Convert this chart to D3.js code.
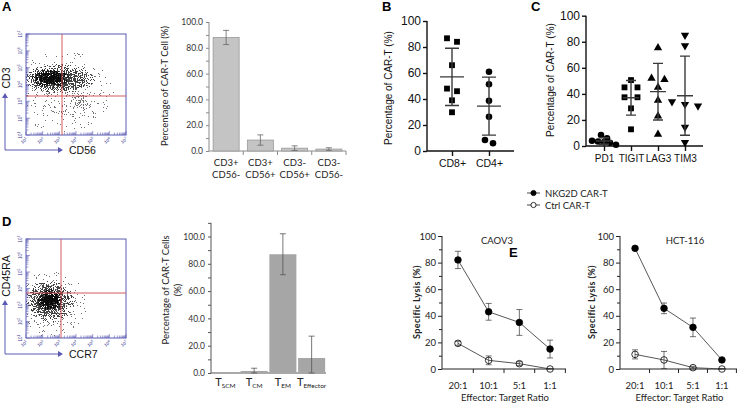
<!DOCTYPE html>
<html><head><meta charset="utf-8">
<script src="https://cdn.jsdelivr.net/npm/d3@7/dist/d3.min.js"></script>
<style>body{margin:0;background:#fff}svg{display:block}</style></head>
<body>
<script>
// ---------------- DATA ----------------
const catsA = ["CD3+ CD56-", "CD3+ CD56+", "CD3- CD56+", "CD3- CD56-"];
const valsA = [88, 8.5, 2.2, 1.5];
const errA  = [5.5, 4, 1.8, 1.0];

const catsB  = ["CD8+", "CD4+"];
const ptsCD8 = [86.7, 84, 66, 48, 46, 39, 29.8];
const ptsCD4 = [61, 51.3, 38.7, 26.4, 5.9, 8.5];
const meanB  = [57, 34.5];
const sdB    = [22, 22.3];

const catsC    = ["PD1", "TIGIT", "LAG3", "TIM3"];
const ptsPD1   = [8.4, 5.9, 4, 3.5, 3, 2.5, 1];
const ptsTIGIT = [50.6, 45, 45, 37.4, 37.4, 28.9, 12.8];
const ptsLAG3  = [75.4, 52, 51, 45, 35, 23, 9];
const ptsTIM3  = [85, 77, 34, 32, 30.7, 14.4, 2.8];
const meanC    = [3.8, 37, 41.7, 38.6];
const sdC      = [2.5, 13.3, 21.7, 30.4];

const catsD = ["SCM", "CM", "EM", "Effector"];
const valsD = [0.3, 1.5, 87, 11];
const errD  = [0, 2, 15, 16];

const ratios       = ["20:1", "10:1", "5:1", "1:1"];
const caovNKG      = [82, 43, 35, 15];
const errCaovNKG   = [6.5, 6.3, 9.7, 6.7];
const caovCtrl     = [19.3, 6.5, 4, 0];
const errCaovCtrl  = [1.5, 3.3, 1.5, 0.4];
const hctNKG       = [90.7, 45.6, 31.3, 6.8];
const errHctNKG    = [1, 4, 7, 1];
const hctCtrl      = [11, 6.8, 1, 0];
const errHctCtrl   = [3.4, 6.4, 1, 0.4];

const decades = [1, 2, 3, 4, 5, 6, 7];

// ---------------- SETUP ----------------
const W = 739, H = 405;
const svg = d3.select("body").append("svg").attr("width", W).attr("height", H)
  .style("font-family", "'Liberation Sans', Arial, sans-serif");
svg.append("rect").attr("width", W).attr("height", H).attr("fill", "#fff");
const defs = svg.append("defs");

// speckle filter for flow clouds (density gradient thresholded against noise)
function speckFilter(id, seed, grey) {
  const f = defs.append("filter").attr("id", id).attr("filterUnits", "userSpaceOnUse")
    .attr("x", 0).attr("y", 0).attr("width", W).attr("height", H)
    .attr("color-interpolation-filters", "sRGB");
  f.append("feTurbulence").attr("type", "fractalNoise").attr("baseFrequency", 0.9)
    .attr("numOctaves", 2).attr("seed", seed).attr("result", "noise");
  f.append("feColorMatrix").attr("in", "noise").attr("type", "matrix")
    .attr("values", "0 0 0 0 0  0 0 0 0 0  0 0 0 0 0  1 0 0 0 0").attr("result", "na");
  f.append("feComposite").attr("in", "SourceGraphic").attr("in2", "na").attr("operator", "arithmetic")
    .attr("k1", 0).attr("k2", 1).attr("k3", -1).attr("k4", 0.5).attr("result", "diff");
  const ct = f.append("feComponentTransfer").attr("in", "diff");
  ["feFuncR", "feFuncG", "feFuncB"].forEach(n =>
    ct.append(n).attr("type", "linear").attr("slope", 0).attr("intercept", grey));
  ct.append("feFuncA").attr("type", "discrete").attr("tableValues", "0 1");
}
speckFilter("speckGrey", 5, 0.45);
speckFilter("speckMid", 8, 0.25);
speckFilter("speckDark", 11, 0.05);

function panelLabel(t, x, y) {
  svg.append("text").attr("x", x).attr("y", y).text(t)
    .attr("font-size", 13).attr("font-weight", "bold").attr("fill", "#000");
}

// ---------------- FLOW PLOTS ----------------
const flowBlue = "#5a5ab4";
function flowPlot(o) {
  const g = svg.append("g");
  const x = d3.scaleLinear([1, 7], [o.x0, o.x1]);
  const y = d3.scaleLinear([1, 7], [o.y1, o.y0]);
  const cid = "clip" + o.id;
  defs.append("clipPath").attr("id", cid).append("rect")
    .attr("x", o.x0).attr("y", o.y0).attr("width", o.x1 - o.x0).attr("height", o.y1 - o.y0);
  const clip = g.append("g").attr("clip-path", `url(#${cid})`);
  o.clouds.forEach((c, i) => {
    const gid = "rg" + o.id + i;
    const rg = defs.append("radialGradient").attr("id", gid);
    c.stops.forEach(([off, op]) => rg.append("stop").attr("offset", off)
      .attr("stop-color", "#000").attr("stop-opacity", op));
    clip.append("g").attr("filter", `url(#${c.f})`).append("ellipse")
      .attr("cx", c.cx).attr("cy", c.cy).attr("rx", c.rx).attr("ry", c.ry)
      .attr("fill", `url(#${gid})`);
  });
  // minor log ticks
  const minor = [];
  for (let dd = 1; dd < 7; dd++) for (let k = 1; k < 10; k++) minor.push({v: dd + Math.log10(k), maj: k === 1});
  minor.push({v: 7, maj: true});
  g.selectAll(".tl").data(minor).join("line")
    .attr("x1", o.x0).attr("x2", d => o.x0 + (d.maj ? 4 : 2.5))
    .attr("y1", d => y(d.v)).attr("y2", d => y(d.v))
    .attr("stroke", flowBlue).attr("stroke-width", 0.6);
  g.selectAll(".tb").data(minor).join("line")
    .attr("y1", o.y1).attr("y2", d => o.y1 - (d.maj ? 4 : 2.5))
    .attr("x1", d => x(d.v)).attr("x2", d => x(d.v))
    .attr("stroke", flowBlue).attr("stroke-width", 0.6);
  g.append("rect").attr("x", o.x0).attr("y", o.y0).attr("width", o.x1 - o.x0).attr("height", o.y1 - o.y0)
    .attr("fill", "none").attr("stroke", flowBlue).attr("stroke-width", 1);
  // quadrant lines
  g.append("line").attr("x1", o.qx).attr("x2", o.qx).attr("y1", o.y0).attr("y2", o.y1)
    .attr("stroke", "#d04a4a").attr("stroke-width", 0.9);
  g.append("line").attr("x1", o.x0).attr("x2", o.x1).attr("y1", o.qy).attr("y2", o.qy)
    .attr("stroke", "#d04a4a").attr("stroke-width", 0.9);
  // tiny decade labels
  decades.forEach(dv => {
    const t = g.append("text").attr("font-size", 4.5).attr("fill", "#3b3b8f")
      .attr("transform", `translate(${x(dv) - 1},${o.y1 + 7}) rotate(-35)`).attr("text-anchor", "middle");
    t.append("tspan").text("10");
    t.append("tspan").attr("dy", -2).attr("font-size", 3.5).text(dv);
    const t2 = g.append("text").attr("font-size", 4.5).attr("fill", "#3b3b8f")
      .attr("transform", `translate(${o.x0 - 4},${y(dv)}) rotate(-90)`).attr("text-anchor", "middle");
    t2.append("tspan").text("10");
    t2.append("tspan").attr("dy", -2).attr("font-size", 3.5).text(dv);
  });
  // arrows
  const ln = (x1, y1, x2, y2) => g.append("line").attr("x1", x1).attr("y1", y1).attr("x2", x2).attr("y2", y2)
    .attr("stroke", flowBlue).attr("stroke-width", 1);
  ln(5, o.ay, 5, o.ayTop + 3);
  g.append("path").attr("d", `M2,${o.ayTop + 5}L5,${o.ayTop}L8,${o.ayTop + 5}Z`).attr("fill", flowBlue);
  ln(5, o.ay, 60, o.ay);
  g.append("path").attr("d", `M58,${o.ay - 3}L63,${o.ay}L58,${o.ay + 3}Z`).attr("fill", flowBlue);
  g.append("text").attr("x", 69).attr("y", o.ay + 4).text(o.xl).attr("font-size", 10.5).attr("fill", "#111");
  g.append("text").attr("transform", `translate(10,${o.ylc}) rotate(-90)`).attr("text-anchor", "middle")
    .text(o.yl).attr("font-size", 10.5).attr("fill", "#111");
}

panelLabel("A", 2, 11);
flowPlot({
  id: "A", x0: 26, x1: 126, y0: 34, y1: 135, qx: 62, qy: 96,
  ay: 150, ayTop: 93, xl: "CD56", yl: "CD3", ylc: 78,
  clouds: [
    {f: "speckGrey", cx: 64, cy: 92, rx: 50, ry: 42, stops: [[0, 0.36], [1, 0.28]]},
    {f: "speckGrey", cx: 80, cy: 101, rx: 14, ry: 15, stops: [[0, 0.5], [1, 0.3]]},
    {f: "speckMid", cx: 58, cy: 79, rx: 38, ry: 15, stops: [[0, 0.66], [0.4, 0.56], [0.75, 0.46], [1, 0.34]]},
    {f: "speckDark", cx: 51, cy: 78, rx: 19, ry: 9, stops: [[0, 0.72], [0.5, 0.6], [1, 0.36]]}
  ]
});

panelLabel("D", 2, 226);
flowPlot({
  id: "D", x0: 26, x1: 126, y0: 239, y1: 338, qx: 61, qy: 293,
  ay: 354, ayTop: 300, xl: "CCR7", yl: "CD45RA", ylc: 276,
  clouds: [
    {f: "speckGrey", cx: 51, cy: 304, rx: 36, ry: 34, stops: [[0, 0.38], [1, 0.28]]},
    {f: "speckMid", cx: 50, cy: 301, rx: 25, ry: 21, stops: [[0, 0.66], [0.4, 0.56], [0.75, 0.46], [1, 0.34]]},
    {f: "speckDark", cx: 50, cy: 300, rx: 13, ry: 11, stops: [[0, 0.74], [0.5, 0.62], [1, 0.38]]}
  ]
});

// ---------------- A BAR CHART ----------------
{
  const g = svg.append("g").style("font-family", "Lato, 'Open Sans', sans-serif");
  const y = d3.scaleLinear([0, 100], [151, 22]);
  const x = d3.scaleBand(catsA, [209, 346]).paddingInner(0.24).paddingOuter(0.12);
  const ax = g.append("g").attr("transform", "translate(209,0)")
    .call(d3.axisLeft(y).tickValues(d3.range(0, 101, 10)).tickSize(3)
      .tickFormat(d => d % 20 === 0 ? d3.format(".1f")(d) : ""));
  ax.selectAll("path,line").attr("stroke", "#8a8a8a");
  ax.select(".domain").attr("d", "M0,151V22");
  ax.selectAll("text").attr("font-size", 8.5).attr("fill", "#333").attr("font-family", "Lato, sans-serif");
  g.append("line").attr("x1", 209).attr("x2", 346).attr("y1", 151).attr("y2", 151).attr("stroke", "#8a8a8a");
  const bnds = catsA.map(c => x(c) - x.step() * x.paddingInner() / 2 + x.step());
  g.selectAll(".xt").data(bnds).join("line").attr("x1", d => d).attr("x2", d => d)
    .attr("y1", 151).attr("y2", 155).attr("stroke", "#8a8a8a");
  g.selectAll(".bar").data(catsA).join("rect")
    .attr("x", d => x(d)).attr("width", x.bandwidth())
    .attr("y", (d, i) => y(valsA[i])).attr("height", (d, i) => y(0) - y(valsA[i]))
    .attr("fill", "#c4c4c4").attr("stroke", "#9a9a9a").attr("stroke-width", 0.8);
  catsA.forEach((c, i) => {
    const cx = x(c) + x.bandwidth() / 2;
    const lo = Math.max(0, valsA[i] - errA[i]), hi = valsA[i] + errA[i];
    g.append("path").attr("d", `M${cx},${y(lo)}V${y(hi)}M${cx - 3},${y(lo)}H${cx + 3}M${cx - 3},${y(hi)}H${cx + 3}`)
      .attr("stroke", "#666").attr("stroke-width", 0.8).attr("fill", "none");
    c.split(" ").forEach((p, j) => g.append("text").attr("x", cx).attr("y", 166 + j * 12).attr("text-anchor", "middle")
      .text(p).attr("font-size", 9.5).attr("fill", "#222"));
  });
  g.append("text").attr("transform", "translate(168,86) rotate(-90)").attr("text-anchor", "middle")
    .text("Percentage of CAR-T Cell (%)").attr("font-size", 9.5).attr("fill", "#222");
}

// ---------------- dodge helper ----------------
function dodge(vals, y, spacing, thresh) {
  const idx = vals.map((v, i) => i).sort((a, b) => vals[b] - vals[a]);
  const off = new Array(vals.length).fill(0);
  let group = [];
  const flush = () => {
    const n = group.length;
    group.forEach((gi, k) => off[gi] = (k - (n - 1) / 2) * spacing);
    group = [];
  };
  idx.forEach(i => {
    if (group.length && Math.abs(y(vals[i]) - y(vals[group[0]])) > thresh) flush();
    group.push(i);
  });
  flush();
  return off;
}

function scatterPanel(o) {
  const g = svg.append("g");
  const y = d3.scaleLinear([0, 100], [o.yb, o.yt]);
  const x = d3.scalePoint(o.cats, [o.x0, o.x1]).padding(o.pad);
  const ay = g.append("g").attr("transform", `translate(${o.x0},0)`)
    .call(d3.axisLeft(y).tickValues([0, 20, 40, 60, 80, 100]).tickSize(4).tickPadding(2));
  ay.selectAll("path,line").attr("stroke", "#111").attr("stroke-width", 1.4);
  ay.select(".domain").attr("d", `M0,${o.yb}V${o.yt}`);
  ay.selectAll("text").attr("font-size", 12).attr("fill", "#111").attr("font-family", "'Liberation Sans', Arial");
  const ax = g.append("g").attr("transform", `translate(0,${o.yb})`)
    .call(d3.axisBottom(x).tickSize(5).tickPadding(4));
  ax.selectAll("path,line").attr("stroke", "#111").attr("stroke-width", 1.4);
  ax.select(".domain").attr("d", `M${o.x0},0H${o.x1}`);
  ax.selectAll("text").attr("font-size", o.xfs).attr("fill", "#111").attr("font-family", "'Liberation Sans', Arial");
  g.append("text").attr("transform", `translate(${o.ylx},${o.ylc}) rotate(-90)`).attr("text-anchor", "middle")
    .text("Percentage of CAR-T (%)").attr("font-size", 10).attr("fill", "#111");
  o.cats.forEach((c, i) => {
    const cx = x(c);
    const pts = o.pts[i];
    const off = dodge(pts, y, o.sp[i], 5.5);
    const sym = o.sym[i];
    g.selectAll(null).data(pts).join("path")
      .attr("d", d3.symbol().type(sym.t).size(sym.s))
      .attr("transform", (d, k) => `translate(${cx + off[k]},${y(d)})${sym.r ? " rotate(180)" : ""}`)
      .attr("fill", "#000");
    const m = o.mean[i], s = o.sd[i];
    const lo = Math.max(0, m - s), hi = m + s;
    g.append("path").attr("d", `M${cx},${y(lo)}V${y(hi)}M${cx - o.cw},${y(lo)}H${cx + o.cw}M${cx - o.cw},${y(hi)}H${cx + o.cw}M${cx - o.mw},${y(m)}H${cx + o.mw}`)
      .attr("stroke", "#3a3a3a").attr("stroke-width", 1.4).attr("fill", "none");
  });
}

panelLabel("B", 382, 11);
scatterPanel({
  cats: catsB, x0: 427, x1: 514, pad: 0.676, yb: 151, yt: 21, xfs: 10.5,
  pts: [ptsCD8, ptsCD4], mean: meanB, sd: sdB, sp: [10, 8],
  sym: [{t: d3.symbolSquare, s: 34}, {t: d3.symbolCircle, s: 34}],
  cw: 7, mw: 12, ylx: 392, ylc: 88
});

panelLabel("C", 531, 11);
scatterPanel({
  cats: catsC, x0: 586, x1: 703, pad: 0.667, yb: 146, yt: 15.7, xfs: 10,
  pts: [ptsPD1, ptsTIGIT, ptsLAG3, ptsTIM3], mean: meanC, sd: sdC, sp: [6, 13, 13, 13],
  sym: [{t: d3.symbolCircle, s: 34}, {t: d3.symbolSquare, s: 34},
        {t: d3.symbolTriangle, s: 30}, {t: d3.symbolTriangle, s: 30, r: true}],
  cw: 5, mw: 8, ylx: 554, ylc: 80
});

// ---------------- D BAR CHART ----------------
{
  const g = svg.append("g").style("font-family", "Lato, 'Open Sans', sans-serif");
  const y = d3.scaleLinear([0, 100], [373, 236.5]);
  const x = d3.scaleBand(catsD, [211, 326]).paddingInner(0.06).paddingOuter(0.03);
  const ax = g.append("g").attr("transform", "translate(211,0)")
    .call(d3.axisLeft(y).tickValues(d3.range(0, 111, 10)).tickSize(3)
      .tickFormat(d => (d % 20 === 0 && d <= 100) ? d3.format(".1f")(d) : ""));
  ax.selectAll("path,line").attr("stroke", "#555");
  ax.select(".domain").attr("d", `M0,373V${y(110)}`);
  ax.selectAll("text").attr("font-size", 8.5).attr("fill", "#333").attr("font-family", "Lato, sans-serif");
  g.append("line").attr("x1", 211).attr("x2", 326).attr("y1", 373).attr("y2", 373).attr("stroke", "#555");
  g.selectAll(".bar").data(catsD).join("rect")
    .attr("x", d => x(d)).attr("width", x.bandwidth())
    .attr("y", (d, i) => y(valsD[i])).attr("height", (d, i) => y(0) - y(valsD[i]))
    .attr("fill", "#a6a6a6");
  catsD.forEach((c, i) => {
    const cx = x(c) + x.bandwidth() / 2;
    if (errD[i] > 0) {
      const lo = Math.max(0, valsD[i] - errD[i]), hi = valsD[i] + errD[i];
      g.append("path").attr("d", `M${cx},${y(lo)}V${y(hi)}M${cx - 3},${y(lo)}H${cx + 3}M${cx - 3},${y(hi)}H${cx + 3}`)
        .attr("stroke", "#555").attr("stroke-width", 0.8).attr("fill", "none");
    }
    const t = g.append("text").attr("x", cx).attr("y", 386).attr("text-anchor", "middle").attr("fill", "#222");
    t.append("tspan").text("T").attr("font-size", 11);
    t.append("tspan").text(c).attr("font-size", 6.5).attr("dy", 2);
  });
  g.append("text").attr("transform", "translate(169,290) rotate(-90)").attr("text-anchor", "middle")
    .text("Percentage of CAR-T Cells").attr("font-size", 9.5).attr("fill", "#222");
  g.append("text").attr("transform", "translate(181,290) rotate(-90)").attr("text-anchor", "middle")
    .text("(%)").attr("font-size", 9.5).attr("fill", "#222");
}

// ---------------- E LINE CHARTS ----------------
panelLabel("E", 509, 257);
{
  const g = svg.append("g").style("font-family", "Lato, 'Open Sans', sans-serif");
  [[193, true, "NKG2D CAR-T"], [205, false, "Ctrl CAR-T"]].forEach(([ly, filled, lab]) => {
    g.append("line").attr("x1", 527).attr("x2", 540).attr("y1", ly).attr("y2", ly).attr("stroke", "#333").attr("stroke-width", 0.9);
    g.append("circle").attr("cx", 533.5).attr("cy", ly).attr("r", 2.6)
      .attr("fill", filled ? "#000" : "#fff").attr("stroke", "#000").attr("stroke-width", 0.8);
    g.append("text").attr("x", 545).attr("y", ly + 3.5).text(lab).attr("font-size", 9.5).attr("fill", "#222");
  });
}

function lysisPanel(o) {
  const g = svg.append("g").style("font-family", "Lato, 'Open Sans', sans-serif");
  const y = d3.scaleLinear([0, 100], [369, 236]);
  const x = d3.scalePoint(ratios, [o.x0, o.x1]).padding(0.52);
  const ay = g.append("g").attr("transform", `translate(${o.x0},0)`)
    .call(d3.axisLeft(y).tickValues(d3.range(0, 101, 10)).tickSize(3).tickPadding(3)
      .tickFormat(d => d % 20 === 0 ? d : ""));
  ay.selectAll("path,line").attr("stroke", "#222");
  ay.select(".domain").attr("d", "M0,369V236");
  ay.selectAll("text").attr("font-size", 9.5).attr("fill", "#222").attr("font-family", "Lato, sans-serif");
  ay.selectAll(".tick line").attr("x2", d => d % 20 === 0 ? -4 : -3);
  g.append("line").attr("x1", o.x0).attr("x2", o.x1).attr("y1", 369).attr("y2", 369).attr("stroke", "#222");
  const st = x.step();
  const tks = ratios.map(r => x(r) + st / 2);
  g.selectAll(null).data(tks).join("line").attr("x1", d => d).attr("x2", d => d)
    .attr("y1", 369).attr("y2", 373).attr("stroke", "#222");
  ratios.forEach(r => g.append("text").attr("x", x(r)).attr("y", 389).attr("text-anchor", "middle")
    .text(r).attr("font-size", 9.5).attr("fill", "#222"));
  g.append("text").attr("x", (o.x0 + o.x1) / 2 + 1).attr("y", 401).attr("text-anchor", "middle")
    .text("Effector: Target Ratio").attr("font-size", 9.5).attr("fill", "#222");
  g.append("text").attr("x", o.tx).attr("y", 244).attr("text-anchor", "middle")
    .text(o.title).attr("font-size", 9.5).attr("fill", "#222");
  g.append("text").attr("transform", `translate(${o.ylx},302) rotate(-90)`).attr("text-anchor", "middle")
    .text("Specific Lysis (%)").attr("font-size", 9).attr("font-weight", "bold")
    .attr("letter-spacing", 0.4).attr("fill", "#222");
  const line = d3.line().x((d, i) => x(ratios[i])).y(d => y(d));
  [[o.ctrl, o.ectrl, false], [o.nkg, o.enkg, true]].forEach(([vals, errs, filled]) => {
    g.append("path").attr("d", line(vals)).attr("fill", "none").attr("stroke", "#444").attr("stroke-width", 0.9);
    vals.forEach((v, i) => {
      const cx = x(ratios[i]);
      const lo = Math.max(0, v - errs[i]), hi = v + errs[i];
      g.append("path").attr("d", `M${cx},${y(lo)}V${y(hi)}M${cx - 3},${y(lo)}H${cx + 3}M${cx - 3},${y(hi)}H${cx + 3}`)
        .attr("stroke", "#333").attr("stroke-width", 0.7).attr("fill", "none");
    });
    g.selectAll(null).data(vals).join("circle")
      .attr("cx", (d, i) => x(ratios[i])).attr("cy", d => y(d)).attr("r", 3.3)
      .attr("fill", filled ? "#000" : "none").attr("stroke", "#000").attr("stroke-width", 0.8);
  });
}

lysisPanel({x0: 442, x1: 566, title: "CAOV3", tx: 497, ylx: 420,
  nkg: caovNKG, enkg: errCaovNKG, ctrl: caovCtrl, ectrl: errCaovCtrl});
lysisPanel({x0: 620, x1: 737, title: "HCT-116", tx: 685, ylx: 595,
  nkg: hctNKG, enkg: errHctNKG, ctrl: hctCtrl, ectrl: errHctCtrl});
</script>
</body></html>
